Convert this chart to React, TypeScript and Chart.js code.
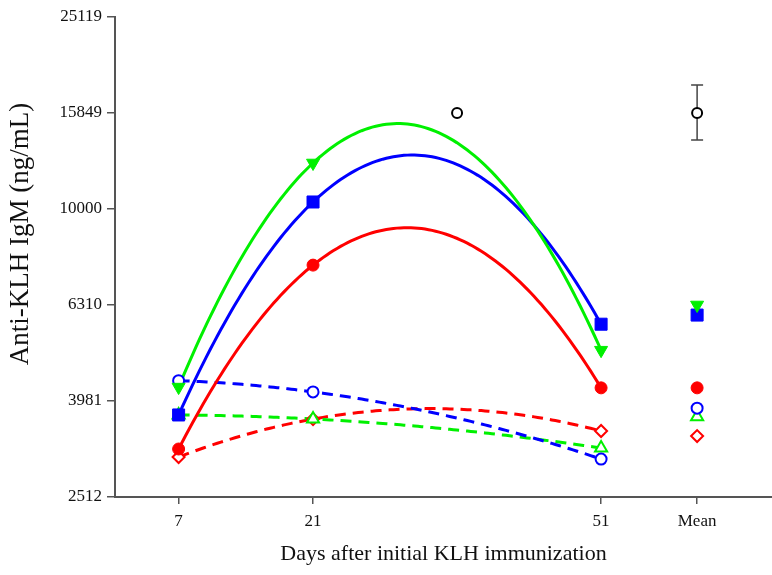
import React, { useEffect, useRef } from "react";
import { Chart, registerables } from "chart.js";

Chart.register(...registerables);

// ---- data ----
const days = [7, 21, 51];
const meanX = 61;
const xTickValues = [7, 21, 51, 61];
const xTickLabels = ["7", "21", "51", "Mean"];
const yTickValues = [2512, 3981, 6310, 10000, 15849, 25119];
const yTickLabels = ["2512", "3981", "6310", "10000", "15849", "25119"];
const xTitle = "Days after initial KLH immunization";
const yTitle = "Anti-KLH IgM (ng/mL)";

const greenSolid = [4256, 12470, 5080];
const greenSolidMean = 6310;
const blueSolid = [3723, 10342, 5754];
const blueSolidMean = 6012;
const redSolid = [3162, 7640, 4240];
const redSolidMean = 4240;
const blueDashed = [4389, 4159, 3013];
const blueDashedMean = 3846;
const greenDashed = [3723, 3652, 3177];
const greenDashedMean = 3690;
const redDashed = [3043, 3650, 3448];
const redDashedMean = 3365;

const blackDays = [36];
const blackValues = [15849];
const blackMean = 15849;
const blackMeanLow = 13930;
const blackMeanHigh = 18130;

const GREEN = "#00f000";
const BLUE = "#0000ff";
const RED = "#ff0000";
const AXIS = "#555555";
const FONT = "'Liberation Serif', 'Times New Roman', serif";

// quadratic fit (log10 space) through the day points
function quadFit(xs: number[], vs: number[]) {
  const ys = vs.map((v) => Math.log10(v));
  const n = xs.length;
  let s0 = 0, s1 = 0, s2 = 0, s3 = 0, s4 = 0, t0 = 0, t1 = 0, t2 = 0;
  for (let i = 0; i < n; i++) {
    const x = xs[i], y = ys[i];
    s0 += 1; s1 += x; s2 += x * x; s3 += x * x * x; s4 += x * x * x * x;
    t0 += y; t1 += x * y; t2 += x * x * y;
  }
  const M = [
    [s0, s1, s2, t0],
    [s1, s2, s3, t1],
    [s2, s3, s4, t2],
  ];
  for (let c = 0; c < 3; c++) {
    let p = c;
    for (let r = c + 1; r < 3; r++) if (Math.abs(M[r][c]) > Math.abs(M[p][c])) p = r;
    [M[c], M[p]] = [M[p], M[c]];
    for (let r = 0; r < 3; r++) {
      if (r === c) continue;
      const f = M[r][c] / M[c][c];
      for (let k = c; k < 4; k++) M[r][k] -= f * M[c][k];
    }
  }
  const a0 = M[0][3] / M[0][0], a1 = M[1][3] / M[1][1], a2 = M[2][3] / M[2][2];
  const out: { x: number; y: number }[] = [];
  const x0 = xs[0], x1 = xs[n - 1];
  const steps = 120;
  for (let i = 0; i <= steps; i++) {
    const x = x0 + ((x1 - x0) * i) / steps;
    out.push({ x, y: Math.pow(10, a0 + a1 * x + a2 * x * x) });
  }
  return out;
}

function pts(vals: number[], mean: number) {
  return [...days.map((d, i) => ({ x: d, y: vals[i] })), { x: meanX, y: mean }];
}

export default function App() {
  const ref = useRef<HTMLCanvasElement | null>(null);

  useEffect(() => {
    if (!ref.current) return;

    const fitLine = (vals: number[], color: string, dashed: boolean) => ({
      type: "line" as const,
      data: quadFit(days, vals),
      borderColor: color,
      borderWidth: 3,
      borderDash: dashed ? [11, 7] : [],
      pointRadius: 0,
      tension: 0,
      fill: false,
      order: 5,
    });

    const markers = (
      vals: number[],
      mean: number,
      color: string,
      style: string,
      radius: number,
      filled: boolean,
      rotation = 0,
      order = 1
    ) => ({
      type: "line" as const,
      data: pts(vals, mean),
      showLine: false,
      pointStyle: style,
      pointRadius: radius,
      pointRotation: rotation,
      pointBorderWidth: filled ? 1 : 2,
      pointBorderColor: color,
      pointBackgroundColor: filled ? color : "#ffffff",
      order,
    });

    const errorBars = {
      id: "errorBars",
      beforeDatasetsDraw(chart: any) {
        const { ctx, scales } = chart;
        const x = scales.x.getPixelForValue(meanX);
        const yl = scales.y.getPixelForValue(blackMeanLow);
        const yh = scales.y.getPixelForValue(blackMeanHigh);
        ctx.save();
        ctx.strokeStyle = "#444444";
        ctx.lineWidth = 1.5;
        ctx.beginPath();
        ctx.moveTo(x, yl);
        ctx.lineTo(x, yh);
        ctx.moveTo(x - 6, yl);
        ctx.lineTo(x + 6, yl);
        ctx.moveTo(x - 6, yh);
        ctx.lineTo(x + 6, yh);
        ctx.stroke();
        ctx.restore();
      },
    };

    const yTitlePlugin = {
      id: "yTitle",
      afterDraw(chart: any) {
        const { ctx } = chart;
        ctx.save();
        ctx.translate(21, 234);
        ctx.rotate(-Math.PI / 2);
        ctx.fillStyle = "#111111";
        ctx.font = `27px ${FONT}`;
        ctx.textAlign = "center";
        ctx.textBaseline = "middle";
        ctx.fillText(yTitle, 0, 0);
        ctx.restore();
      },
    };

    const chart = new Chart(ref.current, {
      type: "line",
      data: {
        datasets: [
          fitLine(greenSolid, GREEN, false),
          fitLine(blueSolid, BLUE, false),
          fitLine(redSolid, RED, false),
          fitLine(blueDashed, BLUE, true),
          fitLine(greenDashed, GREEN, true),
          fitLine(redDashed, RED, true),
          markers(greenSolid, greenSolidMean, GREEN, "triangle", 7.5, true, 180),
          markers(blueSolid, blueSolidMean, BLUE, "rect", 8.5, true),
          markers(redSolid, redSolidMean, RED, "circle", 6, true),
          markers(blueDashed, blueDashedMean, BLUE, "circle", 5.5, false),
          markers(greenDashed, greenDashedMean, GREEN, "triangle", 7, false, 0, 1),
          markers(redDashed, redDashedMean, RED, "rectRot", 6, false, 0, 2),
          {
            type: "line" as const,
            data: [
              ...blackDays.map((d, i) => ({ x: d, y: blackValues[i] })),
              { x: meanX, y: blackMean },
            ],
            showLine: false,
            pointStyle: "circle",
            pointRadius: 5,
            pointBorderWidth: 2,
            pointBorderColor: "#000000",
            pointBackgroundColor: "#ffffff",
            order: 0,
          },
        ] as any,
      },
      options: {
        animation: false,
        responsive: false,
        devicePixelRatio: 1,
        layout: { autoPadding: false, padding: { top: 17, right: 0, left: 0, bottom: 0 } },
        plugins: {
          legend: { display: false },
          tooltip: { enabled: false },
        },
        scales: {
          x: {
            type: "linear",
            min: 0.375,
            max: 68.8,
            afterBuildTicks: (scale: any) => {
              scale.ticks = xTickValues.map((v) => ({ value: v }));
            },
            afterFit: (scale: any) => {
              scale.height = 78;
            },
            ticks: {
              callback: (_v: any, i: number) => xTickLabels[i],
              color: "#111111",
              font: { family: FONT, size: 17 },
              padding: 7,
              maxRotation: 0,
              autoSkip: false,
            },
            grid: {
              drawOnChartArea: false,
              drawTicks: true,
              tickLength: 7,
              color: AXIS,
              lineWidth: 1.5,
            },
            border: { display: true, color: AXIS, width: 2 },
            title: {
              display: true,
              text: xTitle,
              color: "#111111",
              font: { family: FONT, size: 22 },
              padding: { top: 0, bottom: 8 },
            },
          },
          y: {
            type: "logarithmic",
            min: 2511.8,
            max: 25119,
            afterBuildTicks: (scale: any) => {
              scale.ticks = yTickValues.map((v) => ({ value: v }));
            },
            afterFit: (scale: any) => {
              scale.width = 115;
            },
            ticks: {
              callback: (_v: any, i: number) => yTickLabels[i],
              color: "#111111",
              font: { family: FONT, size: 17 },
              padding: 5,
              autoSkip: false,
            },
            grid: {
              drawOnChartArea: false,
              drawTicks: true,
              tickLength: 8,
              color: AXIS,
              lineWidth: 1.5,
            },
            border: { display: true, color: AXIS, width: 2 },
            title: { display: false },
          },
        },
      },
      plugins: [errorBars, yTitlePlugin],
    });

    return () => chart.destroy();
  }, []);

  return (
    <div style={{ position: "fixed", left: 0, top: 0, width: 772, height: 575, background: "#ffffff" }}>
      <canvas ref={ref} width={772} height={575} style={{ display: "block" }} />
    </div>
  );
}
